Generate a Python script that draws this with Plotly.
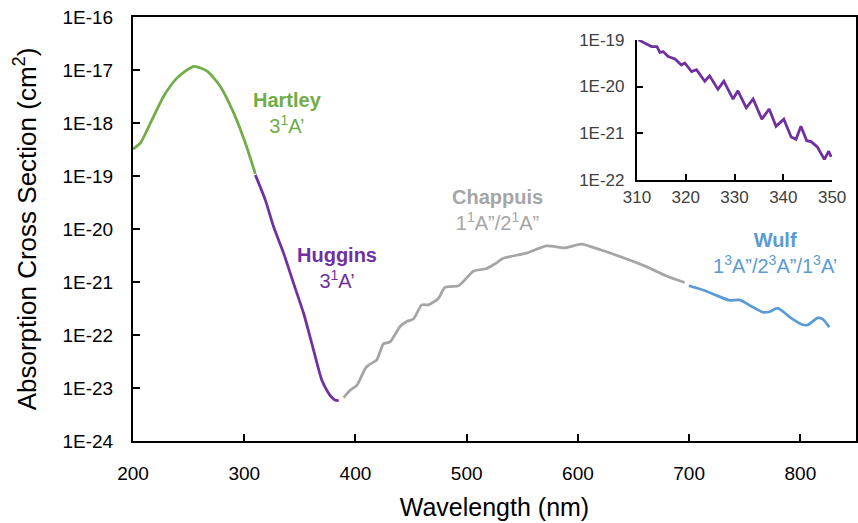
import plotly.graph_objects as go

# ---------------- data ----------------
hartley_nm = [200, 206.7, 215.7, 227.6, 239.7, 254.6, 266.6, 278.5, 290.5, 301, 310]
hartley_xs = [3.2e-19, 4.2e-19, 1.0e-18, 3.2e-18, 7.1e-18, 1.17e-17, 9.5e-18, 4.9e-18,
              1.55e-18, 4.2e-19, 1.1e-19]

huggins_nm = [310, 319, 326.4, 335.4, 344.3, 353.3, 360.8, 369.8, 375, 378.8, 381.8, 384.9]
huggins_xs = [1.05e-19, 3.5e-20, 1.1e-20, 3.5e-21, 9.5e-22, 2.6e-22, 6.9e-23, 1.4e-23,
              8.5e-24, 6.6e-24, 5.9e-24, 5.8e-24]

chappuis_nm = [389.3, 395.2, 401.2, 408.7, 411.7, 419.2, 425.1, 431.1, 440.1, 446.1, 452.1,
               459.6, 465.6, 474.5, 480.5, 492.5, 497, 506, 518, 525.4, 532.9, 553.8,
               571.8, 588.2, 603.1, 619.6, 634.6, 661.5, 679.5, 696]
chappuis_xs = [6.6e-24, 9.1e-24, 1.12e-23, 2.3e-23, 2.7e-23, 3.4e-23, 6.8e-23, 7.4e-23,
               1.45e-22, 1.8e-22, 2.0e-22, 3.7e-22, 3.7e-22, 4.9e-22, 7.9e-22, 8.5e-22,
               1.02e-21, 1.6e-21, 1.8e-21, 2.2e-21, 2.8e-21, 3.5e-21, 4.8e-21, 4.4e-21,
               5.2e-21, 4.1e-21, 3.2e-21, 1.95e-21, 1.3e-21, 9.8e-22]

wulf_nm = [699.8, 713.9, 724.4, 736.4, 745.3, 755.8, 766.2, 772.3, 779.7, 790.2, 800.7,
           806.6, 815.6, 820.1, 826.1]
wulf_xs = [8.5e-22, 6.9e-22, 5.6e-22, 4.5e-22, 4.6e-22, 3.5e-22, 2.7e-22, 2.75e-22, 3.2e-22,
           2.2e-22, 1.6e-22, 1.55e-22, 2.1e-22, 2.0e-22, 1.4e-22]

inset_nm = [310.3, 311.6, 313, 314.1, 314.7, 315.4, 316.4, 317.8, 319.1, 319.8, 321.2, 322.2,
            323.9, 324.9, 326.6, 327.8, 329.7, 330.7, 332.4, 333.8, 335.6, 337.1, 338.5,
            340.1, 341.6, 342.6, 343.6, 344.8, 345.7, 347, 348.4, 349.3, 349.8]
inset_xs = [1.0e-19, 8.7e-20, 7.2e-20, 7.2e-20, 5.4e-20, 5.6e-20, 4.4e-20, 3.9e-20, 2.9e-20,
            3.2e-20, 2.1e-20, 2.3e-20, 1.3e-20, 1.7e-20, 8.7e-21, 1.3e-20, 5.4e-21, 8.1e-21,
            3.5e-21, 5.4e-21, 2.0e-21, 3.3e-21, 1.4e-21, 2.0e-21, 8.3e-22, 7.4e-22, 1.4e-21,
            6.9e-22, 6.6e-22, 5.0e-22, 2.75e-22, 4.1e-22, 3.1e-22]

main_x_ticks = [200, 300, 400, 500, 600, 700, 800]
main_y_tickvals = [1e-24, 1e-23, 1e-22, 1e-21, 1e-20, 1e-19, 1e-18, 1e-17, 1e-16]
main_y_ticktext = ["1E-24", "1E-23", "1E-22", "1E-21", "1E-20", "1E-19", "1E-18", "1E-17", "1E-16"]
inset_x_ticks = [310, 320, 330, 340, 350]
inset_y_tickvals = [1e-22, 1e-21, 1e-20, 1e-19]
inset_y_ticktext = ["1E-22", "1E-21", "1E-20", "1E-19"]

GREEN = "#70AD47"
PURPLE = "#7030A0"
GRAY = "#A5A5A5"
BLUE = "#5B9BD5"
FONT = "Liberation Sans"

fig = go.Figure()
for nm, xs, col in [(hartley_nm, hartley_xs, GREEN),
                    (huggins_nm, huggins_xs, PURPLE),
                    (chappuis_nm, chappuis_xs, GRAY),
                    (wulf_nm, wulf_xs, BLUE)]:
    fig.add_trace(go.Scatter(x=nm, y=xs, mode="lines",
                             line=dict(color=col, width=2.75, shape="spline", smoothing=0.6),
                             showlegend=False, hoverinfo="skip", xaxis="x", yaxis="y"))

fig.add_trace(go.Scatter(x=inset_nm, y=inset_xs, mode="lines",
                         line=dict(color=PURPLE, width=2.75),
                         showlegend=False, hoverinfo="skip", xaxis="x2", yaxis="y2"))

labels = [
    (338.5, -17.82, "Hartley", "3<sup>1</sup>A’", GREEN),
    (383.4, -20.73, "Huggins", "3<sup>1</sup>A’", PURPLE),
    (527.3, -19.64, "Chappuis", "1<sup>1</sup>A”/2<sup>1</sup>A”", GRAY),
    (777.0, -20.46, "Wulf", "1<sup>3</sup>A”/2<sup>3</sup>A”/1<sup>3</sup>A’", BLUE),
]
for x, y, name, state, col in labels:
    fig.add_annotation(x=x, y=y, xref="x", yref="y", showarrow=False,
                       text=f"<b>{name}</b><br>{state}", align="center",
                       font=dict(family=FONT, size=20, color=col),
                       xanchor="center", yanchor="middle")

axis_common = dict(showline=True, linecolor="black", linewidth=2, ticks="inside",
                   tickcolor="black", tickwidth=2, showgrid=False, zeroline=False,
                   automargin=False)

fig.update_layout(
    width=858, height=523,
    margin=dict(l=133, r=2, t=17, b=82),
    paper_bgcolor="white", plot_bgcolor="white",
    font=dict(family=FONT, color="black"),
    xaxis=dict(range=[200, 850], tickvals=main_x_ticks, ticklen=7, mirror=True,
               tickfont=dict(size=19), ticklabelstandoff=14,
               title=dict(text="Wavelength (nm)", font=dict(size=25), standoff=16),
               **axis_common),
    yaxis=dict(type="log", range=[-24, -16], tickvals=main_y_tickvals,
               ticktext=main_y_ticktext, ticklen=7, mirror=True,
               tickfont=dict(size=19), ticklabelstandoff=14,
               title=dict(text="Absorption Cross Section (cm<sup>2</sup>)",
                          font=dict(size=26), standoff=18),
               **axis_common),
    xaxis2=dict(domain=[0.697, 0.967], anchor="y2", range=[310, 350],
                tickvals=inset_x_ticks, ticklen=6, tickfont=dict(size=17, color="#404040"),
                ticklabelstandoff=1, **axis_common),
    yaxis2=dict(domain=[0.616, 0.946], anchor="x2", type="log", range=[-22, -19],
                tickvals=inset_y_tickvals, ticktext=inset_y_ticktext, ticklen=6,
                tickfont=dict(size=17, color="#404040"), ticklabelstandoff=7,
                **axis_common),
)

fig.write_html("out.html")
